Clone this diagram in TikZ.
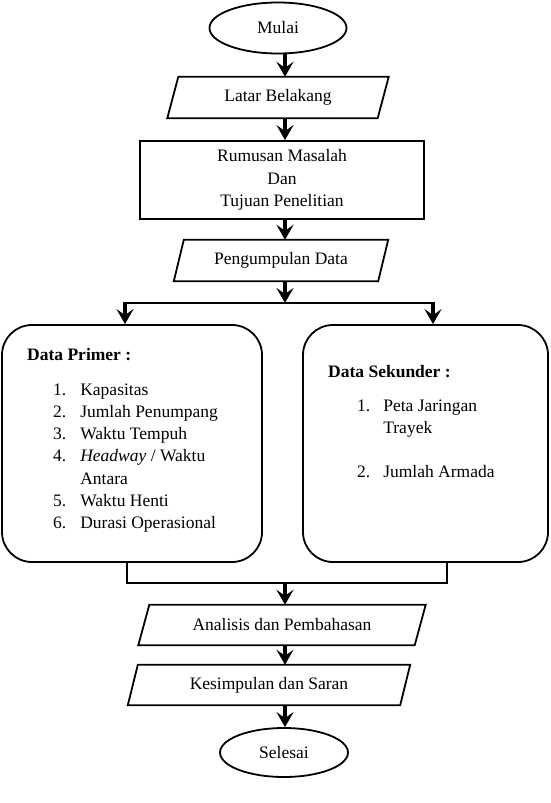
\documentclass[tikz,border=0pt]{standalone}
\usepackage{fontspec}
\setmainfont{Liberation Serif}
\usetikzlibrary{shapes.geometric,arrows.meta}
\newcommand{\parabox}[2]{\draw[boxline] ([xshift=#2]#1.north west) -- ([xshift=#2]#1.north east) -- ([xshift=-#2]#1.south east) -- ([xshift=-#2]#1.south west) -- cycle;}
\begin{document}
\begin{tikzpicture}[x=1pt,y=-1pt,
  txt/.style={font=\fontsize{17.5}{22.3}\selectfont, inner sep=0},
  boxline/.style={line width=1.8pt, line join=miter},
  term/.style={txt, ellipse, draw, line width=1.8pt},
  pbody/.style={txt, rectangle, minimum height=41},
  arr/.style={line width=4pt, -{Stealth[length=15pt,width=17pt,inset=6pt]}},
  bar/.style={line width=2.8pt},
  rbox/.style={draw, line width=1.8pt, rounded corners=30pt, rectangle, inner sep=0}]
\useasboundingbox (0,0) rectangle (551,803);
\coordinate (axis) at (285,0);
% nodes
\node[term, minimum width=137, minimum height=51] (mulai) at (278,28) {Mulai};
\node[pbody, minimum width=210] (latar) at (278,97.5) {Latar Belakang};
\parabox{latar}{5.5}
\node[txt, draw, line width=1.8pt, minimum width=284, minimum height=78, align=center] (rumusan) at (282,180) {Rumusan Masalah\\Dan\\Tujuan Penelitian};
\node[pbody, minimum width=204] (kumpul) at (281,260.5) {Pengumpulan Data};
\parabox{kumpul}{5}
\node[rbox, minimum width=260, minimum height=237] (primer) at (132,443.5) {};
\node[rbox, minimum width=245, minimum height=237] (sekunder) at (425.5,443.5) {};
\node[txt, anchor=west, font=\fontsize{17.5}{22.3}\selectfont\bfseries] (hprimer) at (27,355) {Data Primer :};
\node[txt, anchor=base west] (lprimer) at (53,395) {\begin{tabular}[t]{@{}r@{\hspace{14pt}}l@{}}
1. & Kapasitas\\
2. & Jumlah Penumpang\\
3. & Waktu Tempuh\\
4. & \textit{Headway} / Waktu\\
   & Antara\\
5. & Waktu Henti\\
6. & Durasi Operasional
\end{tabular}};
\node[txt, anchor=west, font=\fontsize{17.5}{22.3}\selectfont\bfseries] (hsekunder) at (328,372) {Data Sekunder :};
\node[txt, anchor=base west] (lsekunder) at (357,411) {\begin{tabular}[t]{@{}r@{\hspace{13pt}}l@{}}
1. & Peta Jaringan\\
   & Trayek\\
   & \\
2. & Jumlah Armada
\end{tabular}};
\node[pbody, minimum width=276, minimum height=40] (analisis) at (282,625) {Analisis dan Pembahasan};
\parabox{analisis}{5.5}
\node[pbody, minimum width=272, minimum height=40] (simpul) at (269,685) {Kesimpulan dan Saran};
\parabox{simpul}{5}
\node[term, minimum width=128, minimum height=49] (selesai) at (284,752.5) {Selesai};
% connectors
\coordinate (split) at (285,303);
\coordinate (splitL) at (125,303);
\coordinate (splitR) at (433,303);
\coordinate (mL) at (127,583);
\coordinate (mR) at (447,583);
\coordinate (merge) at (285,583);
\draw[arr] (mulai.south -| axis) -- (latar.north -| axis);
\draw[arr] (latar.south -| axis) -- (rumusan.north -| axis);
\draw[arr] (rumusan.south -| axis) -- (kumpul.north -| axis);
\draw[arr] (kumpul.south -| axis) -- (split);
\draw[bar] ([xshift=-2pt]splitL) -- ([xshift=2pt]splitR);
\draw[arr] (splitL) -- (primer.north -| splitL);
\draw[arr] (splitR) -- (sekunder.north -| splitR);
\draw[bar, line join=miter] (primer.south -| mL) -- (mL) -- (mR) -- (sekunder.south -| mR);
\draw[arr] (merge) -- (analisis.north -| axis);
\draw[arr] (analisis.south -| axis) -- (simpul.north -| axis);
\draw[arr] (simpul.south -| axis) -- (selesai.north -| axis);
\end{tikzpicture}
\end{document}
